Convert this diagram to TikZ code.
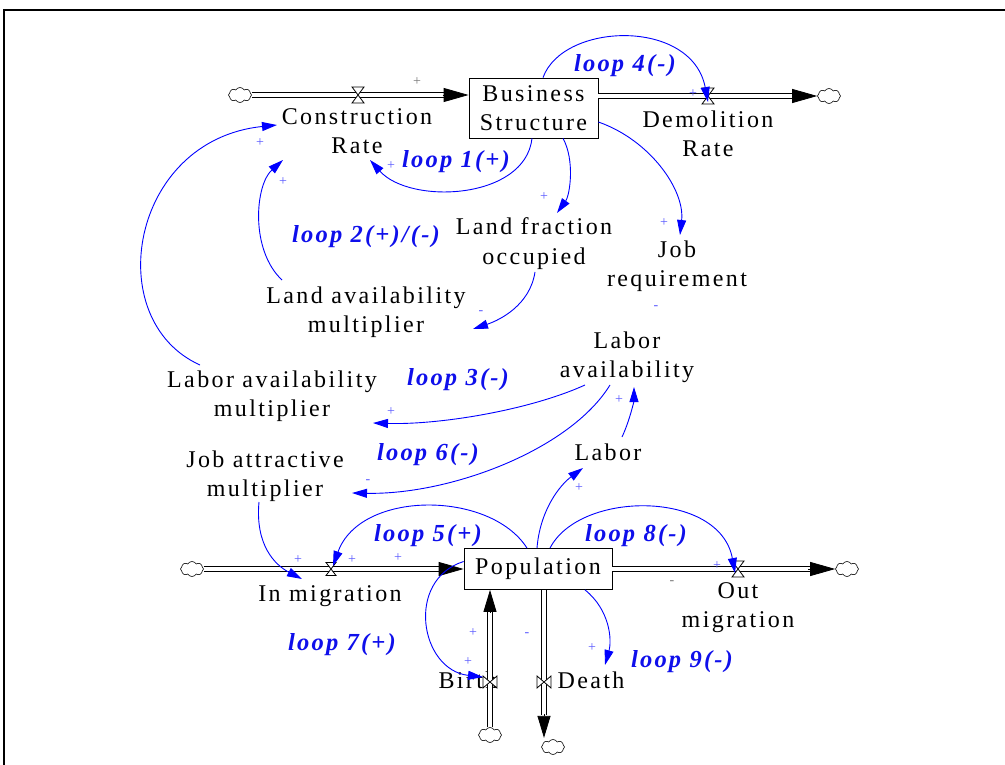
\documentclass[tikz,border=0pt]{standalone}
\usepackage{fontspec}
\setmainfont{Liberation Serif}[LetterSpace=10]
\newfontfamily\loopfont{Liberation Serif}[LetterSpace=9]
\usetikzlibrary{arrows.meta,shapes.symbols}
\definecolor{lblue}{RGB}{0,0,255}
\definecolor{pblue}{RGB}{90,90,255}
\definecolor{tblue}{RGB}{15,15,235}
\definecolor{pgray}{RGB}{120,120,120}
\tikzset{
  lbl/.style={font=\fontsize{24}{29}\selectfont, align=center, inner sep=0pt, anchor=base},
  stock/.style={draw, line width=0.8pt, fill=white, font=\fontsize{24}{29}\selectfont, align=center, inner sep=0pt},
  looplbl/.style={font=\loopfont\fontsize{24.5}{25}\selectfont\bfseries\itshape, text=tblue, anchor=base, inner sep=0pt},
  pol/.style={font=\fontsize{14}{14}\selectfont, text=pblue, inner sep=0pt},
  link/.style={draw=lblue, line width=0.9pt, -{Triangle[length=15pt,width=9pt]}},
  pipe/.style={draw=black, double=white, double distance=4.2pt, line width=0.9pt},
  head/.style={draw=black, line width=0.8pt, -{Triangle[length=25pt,width=14pt]}},
  vhead/.style={draw=black, line width=0.8pt, -{Triangle[length=22pt,width=13pt]}},
  sink/.style={cloud, draw, cloud puffs=8, cloud puff arc=120, aspect=1.5, minimum width=23pt, minimum height=15pt, inner sep=0pt, fill=white, line width=0.6pt},
  valveh/.pic={\draw[line width=0.8pt, fill=white] (-6,-8) -- (6,-8) -- (-6,8) -- (6,8) -- cycle;},
  valves/.pic={\draw[line width=0.8pt, fill=white] (-5,-6.5) -- (5,-6.5) -- (-5,6.5) -- (5,6.5) -- cycle;},
  valvev/.pic={\draw[line width=0.8pt, fill=white] (-7,-6) -- (-7,6) -- (7,-6) -- (7,6) -- cycle;}
}
\begin{document}
\begin{tikzpicture}[x=1pt,y=-1pt]
\useasboundingbox (0,0) rectangle (1005,765);
\draw[line width=2pt] (4,765) -- (4,10) -- (1005,10);

% valve positions
\coordinate (vcon) at (358,95);
\coordinate (vdem) at (708,96);
\coordinate (vin) at (331,569);
\coordinate (vout) at (738,569);
\coordinate (vbirth) at (490,682);
\coordinate (vdeath) at (544,682);

% stocks
\node[stock, minimum width=129pt, minimum height=60pt] (bs) at (533.5,108) {Business\\Structure};
\node[stock, minimum width=148pt, minimum height=41pt] (pop) at (538,569) {Population};

% clouds
\node[sink] (cl1) at (240,95) {};
\node[sink] (cl2) at (829,96) {};
\node[sink] (cl3) at (192,569) {};
\node[sink] (cl4) at (847,569) {};
\node[sink] (cl5) at (490,735) {};
\node[sink] (cl6) at (553,747) {};

% labels (anchor = baseline of last line)
\node[lbl] (cr) at (357,154) {Construction\\Rate};
\node[lbl] (dr) at (708,157) {Demolition\\Rate};
\node[lbl] (lfo) at (534,264) {Land fraction\\occupied};
\node[lbl] (jr) at (677,287) {Job\\requirement};
\node[lbl] (la) at (627,377) {Labor\\availability};
\node[lbl] (lam) at (366,332) {Land availability\\multiplier};
\node[lbl] (labm) at (272,416) {Labor availability\\multiplier};
\node[lbl] (jam) at (265,496) {Job attractive\\multiplier};
\node[lbl] (lab) at (608,460) {Labor};
\node[lbl] (im) at (330,601) {In migration};
\node[lbl] (om) at (738,627) {Out\\migration};
\node[lbl] (bi) at (468,688) {Birth};
\node[lbl] (de) at (591,688) {Death};

% flows
\draw[pipe] (cl1.east) -- ([shift={(-24,-13)}]bs.west);
\draw[head] ([shift={(-26,-13)}]bs.west) -- ([shift={(0,-13)}]bs.west);
\pic at (vcon) {valveh};

\draw[pipe] ([shift={(0,-12)}]bs.east) -- ([xshift=-23pt]cl2.west);
\draw[head] ([xshift=-25pt]cl2.west) -- (cl2.west);
\pic at (vdem) {valveh};

\draw[pipe] (cl3.east) -- ([xshift=-23pt]pop.west);
\draw[head] ([xshift=-24pt]pop.west) -- (pop.west);
\pic at (vin) {valves};

\draw[pipe] (pop.east) -- ([xshift=-25pt]cl4.west);
\draw[head] ([xshift=-27pt]cl4.west) -- (cl4.west);
\pic at (vout) {valveh};

\draw[pipe] (cl5.north) -- ([shift={(-48,20)}]pop.south);
\draw[vhead] ([shift={(-48,22)}]pop.south) -- ([shift={(-48,0)}]pop.south);
\pic at (vbirth) {valvev};

\draw[pipe] ([shift={(6,0)}]pop.south) -- ([shift={(6,125)}]pop.south);
\draw[vhead] ([shift={(6,124)}]pop.south) -- ([shift={(6,148)}]pop.south);
\pic at (vdeath) {valvev};

% links
\draw[link] ([shift={(9.5,0)}]bs.north) .. controls (563,22) and (692,18) .. ([shift={(0,6)}]vdem);
\draw[link] ([shift={(-1.5,0)}]bs.south) .. controls (525,200) and (410,205) .. ([shift={(13,6)}]cr.base);
\draw[link] ([shift={(29.5,0)}]bs.south) .. controls (575,160) and (570,195) .. ([shift={(23,-51)}]lfo.base);
\draw[link] ([shift={(0,14)}]bs.east) .. controls (650,140) and (685,190) .. ([shift={(3,-52)}]jr.base);
\draw[link] ([shift={(1,8)}]lfo.base) .. controls (530,305) and (500,320) .. ([shift={(107,-3)}]lam.base);
\draw[link] ([shift={(-84,-52)}]lam.base) .. controls (250,250) and (255,185) .. ([shift={(-74,6)}]cr.base);
\draw[link] ([shift={(-72,-51)}]labm.base) .. controls (100,320) and (130,140) .. ([shift={(-80,-29)}]cr.base);
\draw[link] ([shift={(-42,8)}]la.base) .. controls (530,410) and (440,425) .. ([shift={(101,7)}]labm.base);
\draw[link] ([shift={(-17,8)}]la.base) .. controls (570,450) and (450,495) .. ([shift={(87,-3)}]jam.base);
\draw[link] ([shift={(-6,6)}]jam.base) .. controls (255,545) and (275,565) .. ([shift={(-28,-22)}]im.base);
\draw[link] ([shift={(14,-23)}]lab.base) .. controls (630,420) and (634,400) .. ([shift={(7,10)}]la.base);
\draw[link] ([shift={(-1,0)}]pop.north) .. controls (540,510) and (560,485) .. ([shift={(-25,8)}]lab.base);
\draw[link] ([shift={(-11,0)}]pop.north) .. controls (490,490) and (360,490) .. ([shift={(2,-3)}]vin);
\draw[link] ([shift={(0,-7.5)}]pop.west) .. controls (405,580) and (420,670) .. ([shift={(-7,-5)}]vbirth);
\draw[link] ([shift={(12,0)}]pop.north) .. controls (580,490) and (720,490) .. ([shift={(-3,4)}]vout);
\draw[link] ([shift={(47,0)}]pop.south) .. controls (610,610) and (612,640) .. ([shift={(14,-23)}]de.base);

% polarity signs
\node[pol, text=pgray] (s1) at (417,82) {+};
\node[pol] (s2) at (693,94) {+};
\node[pol] (s3) at (391,166) {+};
\node[pol] (s4) at (544,197) {+};
\node[pol] (s5) at (664,223) {+};
\node[pol] (s6) at (481,313) {-};
\node[pol] (s7) at (656,308) {-};
\node[pol] (s8) at (283,182) {+};
\node[pol] (s9) at (260,143) {+};
\node[pol] (s10) at (391,412) {+};
\node[pol] (s11) at (368,482) {-};
\node[pol] (s12) at (619,400) {+};
\node[pol] (s13) at (579,488) {+};
\node[pol] (s14) at (298,560) {+};
\node[pol] (s15) at (352,560) {+};
\node[pol] (s16) at (398,558) {+};
\node[pol] (s17) at (717,566) {+};
\node[pol, text=pgray] (s18) at (672,583) {-};
\node[pol] (s19) at (473,633) {+};
\node[pol] (s20) at (468,662) {+};
\node[pol] (s21) at (527,635) {-};
\node[pol] (s22) at (592,648) {+};

% loop labels
\node[looplbl] (l1) at (456,168) {loop 1(+)};
\node[looplbl] (l2) at (366,243) {loop 2(+)/(-)};
\node[looplbl] (l3) at (458,385) {loop 3(-)};
\node[looplbl] (l4) at (625,72) {loop 4(-)};
\node[looplbl] (l5) at (428,541) {loop 5(+)};
\node[looplbl] (l6) at (428,460) {loop 6(-)};
\node[looplbl] (l7) at (342,650) {loop 7(+)};
\node[looplbl] (l8) at (636,541) {loop 8(-)};
\node[looplbl] (l9) at (682,667) {loop 9(-)};
\end{tikzpicture}
\end{document}
